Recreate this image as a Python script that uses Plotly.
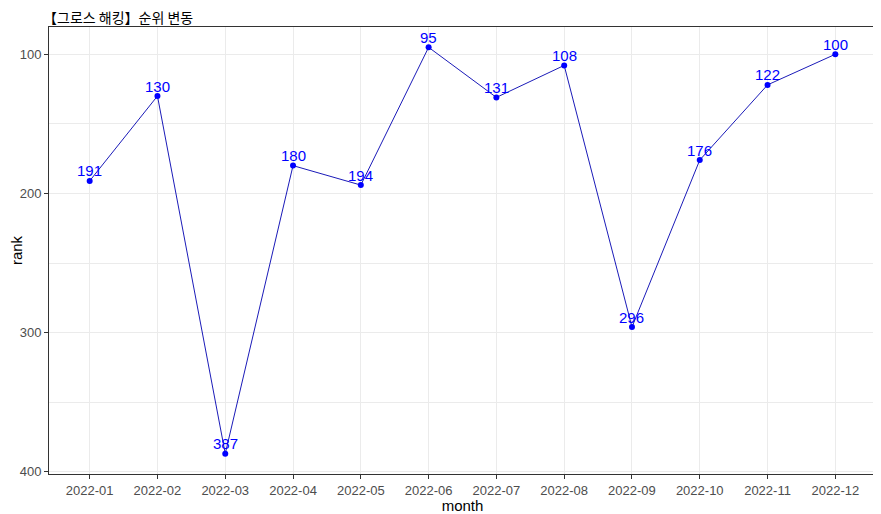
import plotly.graph_objects as go

months = ["2022-01", "2022-02", "2022-03", "2022-04", "2022-05", "2022-06",
          "2022-07", "2022-08", "2022-09", "2022-10", "2022-11", "2022-12"]
ranks = [191, 130, 387, 180, 194, 95, 131, 108, 296, 176, 122, 100]
y_ticks = [100, 200, 300, 400]

FONT = "Liberation Sans, Arial, Noto Sans CJK KR, sans-serif"

fig = go.Figure()
fig.add_trace(go.Scatter(
    x=months, y=ranks, mode="lines",
    line=dict(color="#0000b0", width=0.9), hoverinfo="skip", showlegend=False))
fig.add_trace(go.Scatter(
    x=months, y=ranks, mode="markers",
    marker=dict(color="#0000ff", size=6), showlegend=False))

for m, r in zip(months, ranks):
    fig.add_annotation(x=m, y=r, text=str(r), showarrow=False, yshift=10,
                       font=dict(color="#0000ff", size=15, family=FONT))

fig.update_layout(
    width=873, height=506,
    margin=dict(l=41, r=5, t=19, b=40),
    paper_bgcolor="white", plot_bgcolor="white",
    font=dict(family=FONT, color="#4d4d4d", size=13),
    title=dict(text="【그로스 해킹】순위 변동", x=0, xanchor="left", xref="paper",
               y=1 - 10.5/506, yanchor="middle", pad=dict(l=-6, t=0),
               font=dict(size=14, color="black", family="Noto Sans CJK KR, sans-serif")),
)
fig.update_xaxes(
    type="category", range=[-0.6, 11.6], automargin=False,
    showgrid=True, gridcolor="#ebebeb", gridwidth=1,
    ticks="outside", ticklen=4, tickcolor="#333333",
    showline=True, linecolor="#333333", linewidth=1, mirror=True,
    tickfont=dict(size=13, color="#4d4d4d"),
    title=dict(text="month", font=dict(size=15, color="black"), standoff=0),
    zeroline=False,
)
fig.update_yaxes(
    range=[401.6, 80.4], tickvals=y_ticks, automargin=False,
    showgrid=True, gridcolor="#ebebeb", gridwidth=1,
    minor=dict(tickvals=[150, 250, 350], showgrid=True, gridcolor="#ebebeb", gridwidth=0.6, ticks=""),
    ticks="outside", ticklen=4, tickcolor="#333333",
    showline=True, linecolor="#333333", linewidth=1, mirror=True,
    tickfont=dict(size=13, color="#4d4d4d"),
    title=dict(text="rank", font=dict(size=15, color="black"), standoff=2),
    zeroline=False,
)

fig.write_html("out.html")
